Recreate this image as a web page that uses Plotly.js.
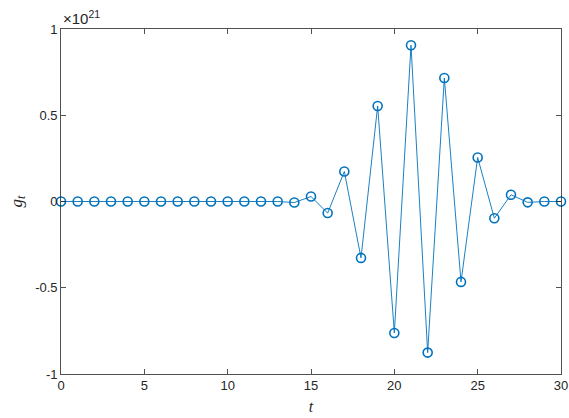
<!DOCTYPE html>
<html>
<head>
<meta charset="utf-8">
<script src="https://cdn.plot.ly/plotly-3.0.1.min.js"></script>
<style>html,body{margin:0;padding:0;background:#fff;}#chart{width:569px;height:418px;}</style>
</head>
<body>
<div id="chart"></div>
<script>
// t values and g_t values (in units of 1e21)
const tValues = [0,1,2,3,4,5,6,7,8,9,10,11,12,13,14,15,16,17,18,19,20,21,22,23,24,25,26,27,28,29,30];
const gValues = [0,0,0,0,0,0,0,0,0,0,0,0,0,0,-0.006,0.029,-0.067,0.174,-0.327,0.554,-0.762,0.906,-0.876,0.716,-0.466,0.255,-0.097,0.039,-0.005,0,0];
const xTickVals = [0,5,10,15,20,25,30];
const yTickVals = [-1,-0.5,0,0.5,1];
const yTickText = ['-1','-0.5','0','0.5','1'];

const axisColor = '#262626';
const trace = {
  x: tValues, y: gValues, type: 'scatter', mode: 'lines+markers',
  line: {color: '#0072BD', width: 0.9},
  marker: {symbol: 'circle-open', size: 9, color: '#0072BD', line: {width: 1.6, color: '#0072BD'}},
  cliponaxis: false
};
const layout = {
  width: 569, height: 418,
  margin: {l: 61, r: 8, t: 29, b: 44},
  paper_bgcolor: '#fff', plot_bgcolor: '#fff',
  showlegend: false,
  font: {family: 'Liberation Sans, Arial, sans-serif', size: 13, color: axisColor},
  xaxis: {
    range: [0, 30], tickvals: xTickVals, ticks: 'inside', ticklen: 5, tickwidth: 0.8, tickcolor: axisColor,
    showline: true, linecolor: axisColor, linewidth: 0.8, mirror: 'ticks', showgrid: false, zeroline: false,
    tickfont: {size: 13, color: axisColor},
    title: {text: '<i>t</i>', font: {family: 'Liberation Serif, Times New Roman, serif', size: 16, color: axisColor}, standoff: 8}
  },
  yaxis: {
    range: [-1, 1], tickvals: yTickVals, ticktext: yTickText, ticks: 'inside', ticklen: 5, tickwidth: 0.8, tickcolor: axisColor,
    showline: true, linecolor: axisColor, linewidth: 0.8, mirror: 'ticks', showgrid: false, zeroline: false,
    tickfont: {size: 13, color: axisColor},
    title: {text: '<i>g<sub>t</sub></i>', font: {family: 'Liberation Serif, Times New Roman, serif', size: 17, color: axisColor}, standoff: 8}
  },
  annotations: [{
    xref: 'paper', yref: 'paper', x: 0, y: 1, xanchor: 'left', yanchor: 'bottom', yshift: 0,
    text: '×10<sup>21</sup>', showarrow: false, font: {size: 15, color: axisColor}
  }]
};
Plotly.newPlot('chart', [trace], layout, {displayModeBar: false, staticPlot: true});
</script>
</body>
</html>
